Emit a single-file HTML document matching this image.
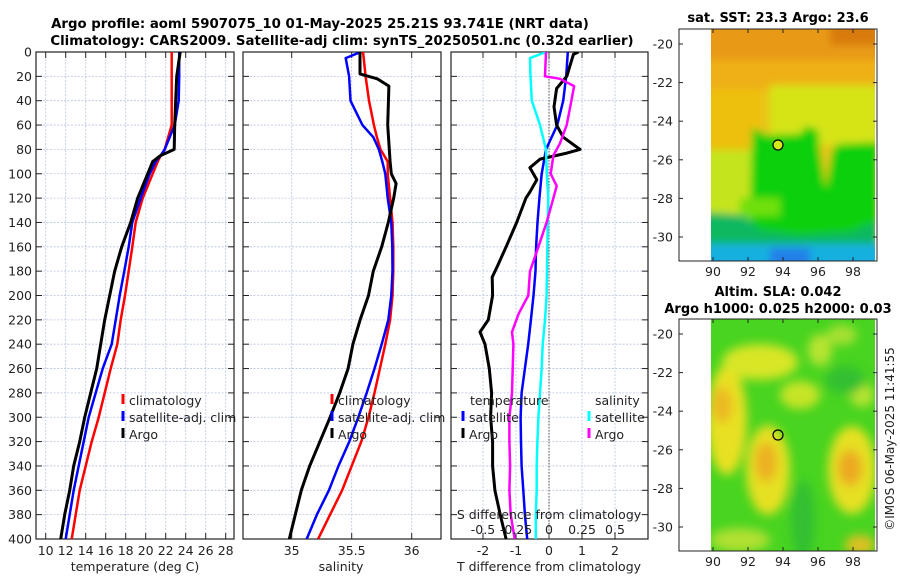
<!DOCTYPE html>
<html><head><meta charset="utf-8"><style>
html,body{margin:0;padding:0;background:#fff;}
svg{display:block;font-family:"DejaVu Sans","Liberation Sans",sans-serif;}
</style></head><body>
<svg id="fig" width="900" height="580" viewBox="0 0 900 580">
<defs>
<filter id="blur1" x="-5%" y="-5%" width="110%" height="110%"><feGaussianBlur stdDeviation="4"/></filter>
<filter id="blur2" x="-5%" y="-5%" width="110%" height="110%"><feGaussianBlur stdDeviation="5"/></filter>
<clipPath id="clipMap1"><rect x="711" y="29" width="164" height="232"/></clipPath>
<clipPath id="clipMap2"><rect x="711" y="319" width="164" height="232"/></clipPath>
<clipPath id="clipP1"><rect x="36" y="52" width="198" height="487"/></clipPath>
<clipPath id="clipP2"><rect x="243" y="52" width="198" height="487"/></clipPath>
<clipPath id="clipP3"><rect x="451" y="52" width="197" height="487"/></clipPath>
</defs>
<text x="320" y="28" text-anchor="middle" font-weight="bold" font-size="13.3">Argo profile: aoml 5907075_10 01-May-2025 25.21S 93.741E (NRT data)</text>
<text x="342" y="45" text-anchor="middle" font-weight="bold" font-size="13.3">Climatology: CARS2009. Satellite-adj clim: synTS_20250501.nc (0.32d earlier)</text>

<g id="p1"></g>
<g id="p2"></g>
<g id="p3"></g>

<!-- Map 1 SST -->
<text x="778" y="22" text-anchor="middle" font-weight="bold" font-size="13">sat. SST: 23.3 Argo: 23.6</text>
<g clip-path="url(#clipMap1)">
  <g filter="url(#blur1)">
  <rect x="700" y="20" width="190" height="250" fill="#e9c412"/>
  <rect x="700" y="20" width="190" height="50" fill="#e89a18"/>
  <rect x="700" y="60" width="190" height="30" fill="#eeb014"/>
  <rect x="830" y="20" width="60" height="25" fill="#d97a10"/>
  <rect x="700" y="90" width="60" height="60" fill="#edc010"/>
  <rect x="770" y="85" width="110" height="60" fill="#d6e414"/>
  <rect x="700" y="150" width="60" height="70" fill="#c4e41a"/>
  <polygon points="752,128 768,135 800,134 806,126 818,130 820,150 826,188 832,150 838,144 880,142 880,270 700,270 700,216 750,220" fill="#10d010"/>
  <polygon points="700,212 745,215 760,230 800,235 850,232 880,220 880,270 700,270" fill="#10b860"/>
  <rect x="740" y="198" width="40" height="18" fill="#70e010"/>
  <rect x="700" y="244" width="190" height="30" fill="#18b0e0"/>
  <rect x="770" y="248" width="40" height="20" fill="#2080e8"/>
  </g>
</g>
<rect x="679" y="29" width="198" height="232" fill="none" stroke="#222" stroke-width="1"/>
<circle cx="778" cy="145" r="5" fill="#d4e81a" stroke="#000" stroke-width="1.2"/>
<g id="m1axes"></g>

<!-- Map 2 SLA -->
<text x="778" y="296" text-anchor="middle" font-weight="bold" font-size="13">Altim. SLA: 0.042</text>
<text x="778" y="313" text-anchor="middle" font-weight="bold" font-size="13">Argo h1000: 0.025 h2000: 0.03</text>
<g clip-path="url(#clipMap2)">
  <rect x="700" y="310" width="190" height="250" fill="#48d420"/>
  <g filter="url(#blur2)">
  <ellipse cx="727" cy="420" rx="20" ry="55" fill="#e8e020"/>
  <ellipse cx="722" cy="405" rx="10" ry="18" fill="#ecb820"/>
  <ellipse cx="760" cy="362" rx="38" ry="18" fill="#d8e628"/>
  <ellipse cx="768" cy="470" rx="22" ry="45" fill="#e6e020"/>
  <ellipse cx="766" cy="462" rx="11" ry="20" fill="#ecb020"/>
  <ellipse cx="852" cy="470" rx="24" ry="44" fill="#e6e020"/>
  <ellipse cx="850" cy="468" rx="12" ry="18" fill="#eca820"/>
  <ellipse cx="800" cy="395" rx="20" ry="14" fill="#c8e428"/>
  <ellipse cx="820" cy="350" rx="12" ry="16" fill="#b8e430"/>
  <ellipse cx="842" cy="335" rx="15" ry="10" fill="#a8e030"/>
  <ellipse cx="862" cy="395" rx="12" ry="12" fill="#b8e430"/>
  <ellipse cx="740" cy="540" rx="30" ry="12" fill="#b0e030"/>
  <ellipse cx="860" cy="545" rx="15" ry="10" fill="#e0c020"/>
  <ellipse cx="803" cy="520" rx="12" ry="40" fill="#30c030"/>
  <ellipse cx="845" cy="380" rx="20" ry="14" fill="#30c030"/>
  </g>
</g>
<rect x="679" y="319" width="198" height="232" fill="none" stroke="#222" stroke-width="1"/>
<circle cx="778" cy="435" r="5" fill="none" stroke="#000" stroke-width="1.2"/>
<g id="m2axes"></g>
<text transform="translate(894,439) rotate(-90)" text-anchor="middle" font-size="12" fill="#222">©IMOS 06-May-2025 11:41:55</text>
</svg>
<script>
// ---- data ----
var depthT = [0,20,40,60,80,85,90,100,120,140,160,180,200,220,240,260,280,300,320,340,360,380,400];
var tempClim = [22.6,22.6,22.6,22.6,21.9,21.5,21.2,20.7,19.7,19.0,18.66,18.3,17.93,17.5,17.16,16.5,15.9,15.3,14.6,14.0,13.4,13.0,12.6];
var tempSat  = [23.35,23.35,23.3,22.9,21.9,21.5,21.0,20.4,19.5,18.66,18.3,17.86,17.4,17.0,16.6,15.7,15.0,14.3,13.8,13.3,12.8,12.4,12.0];
var depthArgoT = [0,20,40,60,80,85,90,100,110,120,140,160,180,200,220,240,260,280,300,320,340,360,380,400];
var tempArgo = [23.45,23.1,23.0,22.9,22.85,21.5,20.7,20.2,19.7,19.2,18.5,17.6,16.9,16.4,15.9,15.5,15.1,14.5,13.9,13.4,12.8,12.4,11.9,11.5];

var depthS = [0,5,20,40,60,70,80,90,100,120,140,160,180,200,220,240,260,280,300,320,340,360,380,400];
var salClim = [35.594,35.60,35.616,35.644,35.685,35.71,35.74,35.80,35.80,35.82,35.84,35.847,35.847,35.84,35.82,35.78,35.735,35.69,35.64,35.58,35.5,35.42,35.32,35.22];
var salSat  = [35.575,35.45,35.478,35.49,35.589,35.68,35.727,35.755,35.78,35.80,35.83,35.838,35.84,35.83,35.805,35.75,35.69,35.625,35.555,35.48,35.39,35.31,35.21,35.125];
var depthArgoS = [0,18,22,28,60,90,100,108,120,140,160,180,200,220,240,260,280,300,320,340,360,380,400];
var salArgo = [35.569,35.569,35.713,35.81,35.80,35.82,35.83,35.87,35.85,35.805,35.75,35.68,35.64,35.57,35.51,35.47,35.40,35.32,35.235,35.15,35.08,35.03,34.98];

var depthD = [0,20,40,60,80,100,120,140,160,180,200,220,240,260,280,300,320,340,360,380,400];
var dTSat = [0.57,0.52,0.43,0.25,-0.09,-0.22,-0.29,-0.35,-0.39,-0.41,-0.47,-0.55,-0.63,-0.73,-0.83,-0.86,-0.85,-0.83,-0.78,-0.73,-0.66];
var depthDTA = [0,2,20,30,45,60,70,80,83,88,95,105,115,120,140,160,175,185,200,220,230,240,260,280,300,320,340,360,380,400];
var dTArgo = [0.89,0.74,0.54,0.23,0.15,0.23,0.43,0.94,0.54,-0.27,-0.58,-0.37,-0.58,-0.70,-0.98,-1.3,-1.55,-1.72,-1.71,-1.84,-2.09,-1.94,-1.81,-1.74,-1.77,-1.71,-1.71,-1.64,-1.48,-1.30];
var depthDSS = [0,5,20,40,60,80,100,120,140,160,200,220,240,260,280,300,320,340,360,380,400];
var dSSat = [-0.023,-0.144,-0.14,-0.13,-0.068,-0.023,-0.017,-0.005,-0.01,-0.012,-0.018,-0.03,-0.048,-0.055,-0.068,-0.08,-0.088,-0.093,-0.093,-0.1,-0.1];
var depthDSA = [0,20,22,28,40,60,75,85,95,100,110,120,140,160,180,200,215,230,240,260,280,300,320,340,360,380,400];
var dSArgo = [-0.023,-0.03,0.083,0.19,0.17,0.134,0.083,0.033,0.02,0.013,0.058,0.033,-0.018,-0.08,-0.144,-0.157,-0.23,-0.28,-0.27,-0.275,-0.28,-0.30,-0.30,-0.295,-0.30,-0.29,-0.26];

var depthTicks = [0,20,40,60,80,100,120,140,160,180,200,220,240,260,280,300,320,340,360,380,400];
var tempTicks = [10,12,14,16,18,20,22,24,26,28];
var salTicks = [35,35.5,36];
var salTickLabels = ["35","35.5","36"];
var dTTicks = [-2,-1,0,1,2];
var dSTicks = [-0.5,-0.25,0,0.25,0.5];
var dSTickLabels = ["-0.5","-0.25","0","0.25","0.5"];
var lonTicks = [90,92,94,96,98];
var latTicks = [-20,-22,-24,-26,-28,-30];

// ---- scales ----
var NS = "http://www.w3.org/2000/svg";
var TOP = 52, BOT = 539;
function yD(d){ return TOP + d*(BOT-TOP)/400; }
function xT(t){ return 45.7 + (t-10)*10; }
function xS(s){ return 351.7 + (s-35.5)*120; }
function xDT(v){ return 549 + v*33; }
function xDS(v){ return 549 + v*132; }
function xLon(l){ return 713 + (l-90)*17.5; }
function yLat1(l){ return 44 + (-20-l)*19.3; }
function yLat2(l){ return 334 + (-20-l)*19.3; }

function mk(tag, attrs, parent){
  var e = document.createElementNS(NS, tag);
  for (var k in attrs) e.setAttribute(k, attrs[k]);
  parent.appendChild(e); return e;
}
function txt(parent, x, y, s, anchor, size){
  var t = mk('text', {x:x, y:y, 'text-anchor':anchor||'middle', 'font-size':size||12, fill:'#222'}, parent);
  t.textContent = s; return t;
}

function frame(g, x0, x1, xticks, xfn, labelY, showDepthLabels){
  var i, y, x;
  for (i=0;i<depthTicks.length;i++){
    y = yD(depthTicks[i]);
    var gl = mk('line', {x1:x0, x2:x1, y1:y, y2:y, stroke:'#b8c4e4', 'stroke-width':0.8, 'stroke-dasharray':'2,1.5'}, g);
    
    
    mk('line', {x1:x0, x2:x0+6, y1:y, y2:y, stroke:'#222', 'stroke-width':1}, g);
    mk('line', {x1:x1-6, x2:x1, y1:y, y2:y, stroke:'#222', 'stroke-width':1}, g);
    if (showDepthLabels){
      var lb = txt(g, x0-4, y+4.5, String(depthTicks[i]), 'end', 12.5);
      
      
    }
  }
  for (i=0;i<xticks.length;i++){
    x = xfn(xticks[i]);
    var vg = mk('line', {x1:x, x2:x, y1:TOP, y2:BOT, stroke:'#b8c4e4', 'stroke-width':0.8, 'stroke-dasharray':'2,1.5'}, g);
    
    
    mk('line', {x1:x, x2:x, y1:TOP, y2:TOP+6, stroke:'#222'}, g);
    mk('line', {x1:x, x2:x, y1:BOT-6, y2:BOT, stroke:'#222'}, g);
  }
  var r = mk('rect', {x:x0, y:TOP, width:x1-x0, height:BOT-TOP, fill:'none', stroke:'#222', 'stroke-width':1.2}, g);
  
  
}
function series(g, depths, vals, xfn, color, width, clip, name){
  var pts = [];
  for (var i=0;i<depths.length;i++) pts.push(xfn(vals[i]).toFixed(1)+','+yD(depths[i]).toFixed(1));
  var p = mk('polyline', {points:pts.join(' '), fill:'none', stroke:color, 'stroke-width':width, 'stroke-linejoin':'round', 'clip-path':'url(#'+clip+')'}, g);
  
  
}
function legendEntry(g, x, y, color, label, name){
  var m = mk('line', {x1:x, x2:x, y1:y-11, y2:y-1, stroke:color, 'stroke-width':3}, g);
  
  
  var t = txt(g, x+6, y, label, 'start', 12.5);
  
  
}

// Panel 1: temperature
var p1 = document.getElementById('p1');
frame(p1, 36, 234, tempTicks, xT, 551, true);
for (var i=0;i<tempTicks.length;i++){
  var tl = txt(p1, xT(tempTicks[i]), 555, String(tempTicks[i]), 'middle', 12.5);
  
  
}
var xl1 = txt(p1, 135, 571, 'temperature (deg C)', 'middle', 12.5);


series(p1, depthT, tempClim, xT, '#ff0000', 2.5, 'clipP1', 'temperature-climatology-line');
series(p1, depthT, tempSat, xT, '#0000ff', 2.5, 'clipP1', 'temperature-satellite-line');
series(p1, depthArgoT, tempArgo, xT, '#000000', 3, 'clipP1', 'temperature-argo-line');
legendEntry(p1, 123, 405, '#ff0000', 'climatology', 'legend-climatology');
legendEntry(p1, 123, 422, '#0000ff', 'satellite-adj. clim', 'legend-satellite-adj');
legendEntry(p1, 123, 439, '#000000', 'Argo', 'legend-argo');

// Panel 2: salinity
var p2 = document.getElementById('p2');
frame(p2, 243, 441, salTicks, xS, 551, false);
for (i=0;i<salTicks.length;i++){
  var sl = txt(p2, xS(salTicks[i]), 555, salTickLabels[i], 'middle', 12.5);
  
  
}
var xl2 = txt(p2, 341, 571, 'salinity', 'middle', 12.5);


series(p2, depthS, salClim, xS, '#ff0000', 2.5, 'clipP2', 'salinity-climatology-line');
series(p2, depthS, salSat, xS, '#0000ff', 2.5, 'clipP2', 'salinity-satellite-line');
series(p2, depthArgoS, salArgo, xS, '#000000', 3, 'clipP2', 'salinity-argo-line');
legendEntry(p2, 332, 405, '#ff0000', 'climatology', 'legend-climatology');
legendEntry(p2, 332, 422, '#0000ff', 'satellite-adj. clim', 'legend-satellite-adj');
legendEntry(p2, 332, 439, '#000000', 'Argo', 'legend-argo');

// Panel 3: differences
var p3 = document.getElementById('p3');
frame(p3, 451, 648, dTTicks, xDT, 551, false);
var zl = mk('line', {x1:549, x2:549, y1:TOP, y2:BOT, stroke:'#555', 'stroke-width':1, 'stroke-dasharray':'1.5,1.5'}, p3);


for (i=0;i<dTTicks.length;i++){
  var dl = txt(p3, xDT(dTTicks[i]), 555, String(dTTicks[i]), 'middle', 12.5);
  
  
}
var xl3 = txt(p3, 549, 571, 'T difference from climatology', 'middle', 12.5);


series(p3, depthD, dTSat, xDT, '#0000ff', 2.5, 'clipP3', 't-diff-satellite-line');
series(p3, depthDTA, dTArgo, xDT, '#000000', 3, 'clipP3', 't-diff-argo-line');
series(p3, depthDSS, dSSat, xDS, '#00ffff', 2.5, 'clipP3', 's-diff-satellite-line');
series(p3, depthDSA, dSArgo, xDS, '#ff00ff', 2.5, 'clipP3', 's-diff-argo-line');
var sdt = txt(p3, 549, 519, 'S difference from climatology', 'middle', 12.5);


for (i=0;i<dSTicks.length;i++){
  var ds = txt(p3, xDS(dSTicks[i]), 534, dSTickLabels[i], 'middle', 12.5);
  
  
}
var lt = txt(p3, 470, 405, 'temperature', 'start', 12.5);


var ls = txt(p3, 595, 405, 'salinity', 'start', 12.5);


legendEntry(p3, 463, 422, '#0000ff', 'satellite', 'legend-t-satellite');
legendEntry(p3, 463, 439, '#000000', 'Argo', 'legend-t-argo');
legendEntry(p3, 589, 422, '#00ffff', 'satellite', 'legend-s-satellite');
legendEntry(p3, 589, 439, '#ff00ff', 'Argo', 'legend-s-argo');

// Map axes
function mapAxes(id, yLat, top, bot){
  var g = document.getElementById(id);
  var j;
  for (j=0;j<lonTicks.length;j++){
    var x = xLon(lonTicks[j]);
    mk('line', {x1:x, x2:x, y1:top, y2:top+4, stroke:'#222'}, g);
    mk('line', {x1:x, x2:x, y1:bot-4, y2:bot, stroke:'#222'}, g);
    var t = txt(g, x, bot+15, String(lonTicks[j]), 'middle', 12.5);
    
    
  }
  for (j=0;j<latTicks.length;j++){
    var y = yLat(latTicks[j]);
    mk('line', {x1:679, x2:683, y1:y, y2:y, stroke:'#222'}, g);
    mk('line', {x1:873, x2:877, y1:y, y2:y, stroke:'#222'}, g);
    var u = txt(g, 673, y+4.5, String(latTicks[j]), 'end', 12.5);
    
    
  }
}
mapAxes('m1axes', yLat1, 29, 261);
mapAxes('m2axes', yLat2, 319, 551);
</script>
</body></html>
